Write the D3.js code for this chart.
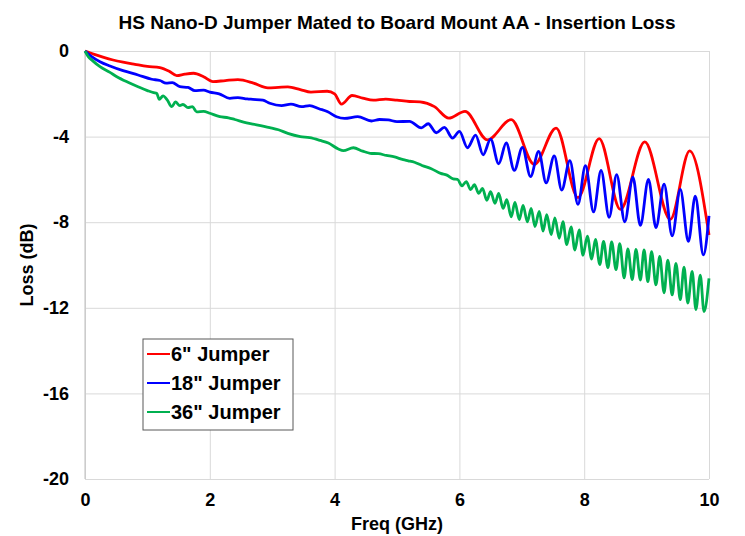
<!DOCTYPE html>
<html>
<head>
<meta charset="utf-8">
<script src="https://cdn.jsdelivr.net/npm/d3@7"></script>
<style>
  body { margin: 0; background: #fff; }
  text { font-family: "Liberation Sans", Arial, sans-serif; font-weight: bold; }
</style>
</head>
<body>
<div class="canvas"></div>
<script>
// series (freq in GHz, loss in dB)
const redFreq = [0, 0.15, 0.3, 0.45, 0.61, 0.8, 1.0, 1.2, 1.35, 1.47, 1.6, 1.74, 1.9, 2.05, 2.25, 2.45, 2.7, 2.93, 3.1, 3.25,
  3.45, 3.62, 3.88, 4.0, 4.11, 4.28, 4.45, 4.62, 4.82, 5.0, 5.2, 5.37, 5.6, 5.83, 6.09, 6.45, 6.83, 7.2, 7.55, 7.9,
  8.24, 8.58, 8.97, 9.38, 9.69, 10.0];
const redLoss = [0, -0.16, -0.3, -0.42, -0.52, -0.62, -0.72, -0.78, -0.95, -1.15, -1.08, -1.04, -1.2, -1.43, -1.38, -1.34, -1.5, -1.72, -1.7, -1.68,
  -1.8, -1.92, -1.88, -2.0, -2.48, -2.08, -2.2, -2.3, -2.25, -2.3, -2.36, -2.38, -2.6, -3.14, -2.82, -4.15, -3.21, -5.3, -3.6, -6.85,
  -4.09, -7.4, -4.25, -7.87, -4.67, -8.6];

const blueFreq = [0, 0.1, 0.24, 0.4, 0.61, 0.85, 1.07, 1.2, 1.3, 1.4, 1.52, 1.65, 1.76, 1.9, 2.0, 2.15, 2.32, 2.45, 2.6, 2.69,
  2.85, 2.96, 3.15, 3.3, 3.47, 3.6, 3.75, 3.89, 4.03, 4.16, 4.37, 4.59, 4.72, 4.86, 5.0, 5.2, 5.39, 5.5, 5.63, 5.76,
  5.89, 6.0, 6.13, 6.26, 6.38, 6.5, 6.63, 6.75, 6.88, 7.01, 7.14, 7.27, 7.39, 7.52, 7.64, 7.77, 7.9, 8.02, 8.15, 8.27,
  8.4, 8.52, 8.65, 8.78, 8.9, 9.03, 9.15, 9.28, 9.41, 9.54, 9.67, 9.78, 9.91, 10.0];
const blueLoss = [0, -0.25, -0.5, -0.7, -0.92, -1.12, -1.32, -1.38, -1.5, -1.48, -1.67, -1.7, -1.85, -1.83, -1.92, -2.0, -2.21, -2.18, -2.24, -2.26,
  -2.3, -2.44, -2.55, -2.48, -2.6, -2.55, -2.7, -2.84, -3.07, -3.15, -3.07, -3.27, -3.2, -3.22, -3.3, -3.29, -3.59, -3.4, -3.82, -3.57,
  -4.07, -3.76, -4.52, -3.93, -4.85, -4.12, -5.27, -4.3, -5.58, -4.5, -5.87, -4.69, -6.16, -4.9, -6.5, -5.12, -7.17, -5.36, -7.52, -5.58,
  -7.77, -5.78, -7.98, -5.9, -8.15, -6.0, -8.25, -6.22, -8.64, -6.47, -8.9, -6.78, -9.53, -7.7];

const greenFreq = [0, 0.05, 0.12, 0.24, 0.4, 0.51, 0.68, 0.85, 1.0, 1.1, 1.15, 1.19, 1.25, 1.32, 1.39, 1.45, 1.52, 1.57, 1.65, 1.72,
  1.79, 1.9, 2.0, 2.16, 2.3, 2.4, 2.59, 2.75, 2.96, 3.1, 3.25, 3.45, 3.6, 3.77, 3.9, 4.06, 4.14, 4.3, 4.45, 4.57,
  4.7, 4.83, 4.96, 5.1, 5.18, 5.28, 5.4, 5.55, 5.7, 5.8, 5.9, 5.97, 6.04, 6.11, 6.18, 6.24, 6.31, 6.37, 6.44, 6.5,
  6.57, 6.63, 6.7, 6.76, 6.83, 6.89, 6.96, 7.02, 7.09, 7.15, 7.21, 7.28, 7.34, 7.4, 7.47, 7.53, 7.6, 7.66, 7.72, 7.79,
  7.85, 7.92, 7.98, 8.05, 8.12, 8.18, 8.25, 8.31, 8.38, 8.44, 8.51, 8.57, 8.64, 8.7, 8.77, 8.83, 8.9, 8.96, 9.02, 9.08,
  9.15, 9.21, 9.28, 9.34, 9.41, 9.47, 9.54, 9.6, 9.66, 9.73, 9.79, 9.86, 9.92, 10.0];
const greenLoss = [0, -0.25, -0.45, -0.73, -1.0, -1.2, -1.45, -1.67, -1.85, -1.95, -1.98, -2.26, -2.1, -2.3, -2.6, -2.38, -2.55, -2.5, -2.65, -2.6,
  -2.84, -2.82, -2.91, -3.07, -3.12, -3.2, -3.36, -3.45, -3.58, -3.68, -3.85, -4.0, -4.05, -4.18, -4.3, -4.58, -4.66, -4.52, -4.68, -4.78,
  -4.8, -4.88, -4.95, -5.08, -5.13, -5.2, -5.35, -5.5, -5.72, -5.8, -5.98, -6.0, -6.3, -6.1, -6.48, -6.25, -6.65, -6.42, -6.98, -6.57,
  -7.12, -6.66, -7.35, -6.95, -7.75, -7.08, -7.88, -7.22, -7.98, -7.35, -8.2, -7.5, -8.42, -7.65, -8.58, -7.8, -8.75, -7.98, -9.05, -8.22,
  -9.3, -8.36, -9.55, -8.65, -9.72, -8.8, -9.98, -8.9, -10.12, -8.92, -10.22, -9.0, -10.6, -9.25, -10.68, -9.27, -10.7, -9.3, -10.78, -9.38,
  -10.93, -9.6, -11.3, -9.77, -11.4, -9.92, -11.62, -10.1, -11.78, -10.3, -12.08, -10.47, -12.18, -10.62];

const seriesNames = ['6" Jumper', '18" Jumper', '36" Jumper'];
const seriesColors = ['#ff0000', '#0000ff', '#00b050'];
const xTicks = [0, 2, 4, 6, 8, 10];
const yTicks = [0, -4, -8, -12, -16, -20];

const width = 745, height = 536;
const margin = {top: 51, right: 36, bottom: 57, left: 85};
const w = width - margin.left - margin.right;
const h = height - margin.top - margin.bottom;

const svg = d3.select('.canvas')
  .append('svg')
    .attr('width', width)
    .attr('height', height);

const g = svg.append('g')
  .attr('transform', `translate(${margin.left},${margin.top})`);

const x = d3.scaleLinear().domain([0, 10]).range([0, w]);
const y = d3.scaleLinear().domain([-20, 0]).range([h, 0]);

// gridlines
g.append('g')
  .attr('transform', `translate(0,${h})`)
  .call(d3.axisBottom(x).tickValues(xTicks).tickSize(-h).tickFormat(''))
  .call(s => s.select('.domain').remove())
  .selectAll('line').attr('stroke', '#d9d9d9');
g.append('g')
  .call(d3.axisLeft(y).tickValues(yTicks).tickSize(-w).tickFormat(''))
  .call(s => s.select('.domain').remove())
  .selectAll('line').attr('stroke', '#d9d9d9');

// left axis line
g.append('line')
  .attr('x1', 0).attr('x2', 0)
  .attr('y1', 0).attr('y2', h)
  .attr('stroke', '#bfbfbf');

// tick labels (plain hyphen for negatives, like the original)
g.append('g')
  .call(d3.axisLeft(y).tickValues(yTicks).tickSize(0).tickPadding(16).tickFormat(d => String(d)))
  .call(s => s.select('.domain').remove())
  .selectAll('text')
    .style('font-size', '18px')
    .attr('fill', '#000');
g.append('g')
  .attr('transform', `translate(0,${h})`)
  .call(d3.axisBottom(x).tickValues(xTicks).tickSize(0).tickPadding(14))
  .call(s => s.select('.domain').remove())
  .selectAll('text')
    .style('font-size', '18px')
    .attr('fill', '#000');

// titles
svg.append('text')
  .attr('x', 397).attr('y', 29)
  .attr('text-anchor', 'middle')
  .style('font-size', '19px')
  .text('HS Nano-D Jumper Mated to Board Mount AA - Insertion Loss');
svg.append('text')
  .attr('x', 397).attr('y', 530)
  .attr('text-anchor', 'middle')
  .style('font-size', '18px')
  .text('Freq (GHz)');
svg.append('text')
  .attr('transform', 'translate(33,265) rotate(-90)')
  .attr('text-anchor', 'middle')
  .style('font-size', '18px')
  .text('Loss (dB)');

// curves
const series = [
  {freq: redFreq, loss: redLoss},
  {freq: blueFreq, loss: blueLoss},
  {freq: greenFreq, loss: greenLoss}
];
const line = d3.line()
  .x(d => x(d[0]))
  .y(d => y(d[1]))
  .curve(d3.curveMonotoneX);

series.forEach((s, i) => {
  const pts = s.freq.map((f, j) => [f, s.loss[j]]);
  g.append('path')
    .datum(pts)
    .attr('fill', 'none')
    .attr('stroke', seriesColors[i])
    .attr('stroke-width', 2.8)
    .attr('stroke-linejoin', 'round')
    .attr('d', line);
});

// legend
const legend = svg.append('g').attr('transform', 'translate(143,339)');
legend.append('rect')
  .attr('width', 150).attr('height', 91)
  .attr('fill', '#fff')
  .attr('stroke', '#595959');
seriesNames.forEach((name, i) => {
  const ly = 15 + i * 29;
  legend.append('line')
    .attr('x1', 4).attr('x2', 27)
    .attr('y1', ly).attr('y2', ly)
    .attr('stroke', seriesColors[i])
    .attr('stroke-width', 2);
  legend.append('text')
    .attr('x', 28).attr('y', ly + 7)
    .style('font-size', '20px')
    .text(name);
});
</script>
</body>
</html>
